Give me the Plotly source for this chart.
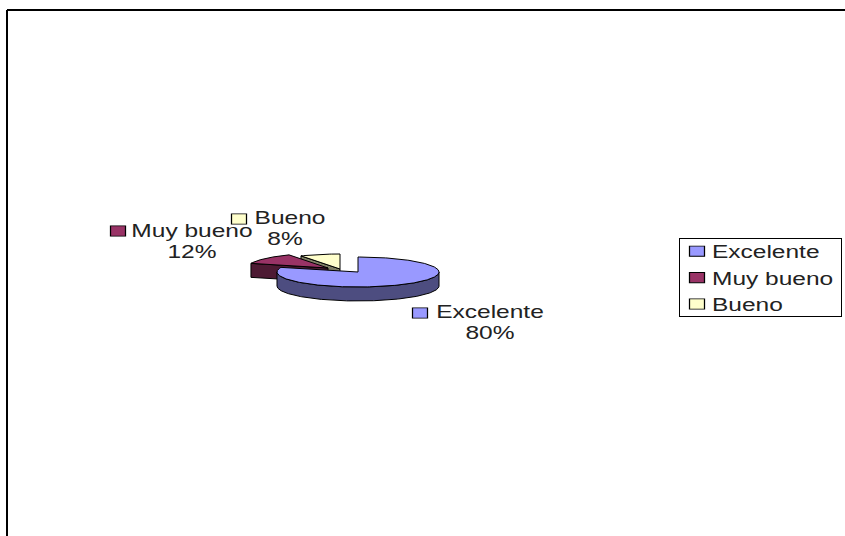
import math
import plotly.graph_objects as go

categories = ["Excelente", "Muy bueno", "Bueno"]
values = [80, 12, 8]
top_colors = ["#9999FF", "#993366", "#FFFFCC"]
side_colors = ["#4D4D80", "#4D1A33", "#808066"]

# pie geometry, in window pixels
centers = [(358, 272), (328, 268), (340, 269)]
RX, RY, DEPTH = 81, 15, 14
TEXT_FONT = "Liberation Sans"
TEXT_SIZE = 19
LEGEND_SIZE = 18
name_pos = [(490, 313), (192, 232), (290, 219)]
pct_pos = [(490, 334), (192, 253), (285, 240)]
key_pos = [(420, 313), (118, 231), (239, 219)]


def pt(c, deg, dz=0):
    a = math.radians(deg)
    return c[0] + RX * math.sin(a), c[1] - RY * math.cos(a) + dz


def arc(c, a0, a1, dz=0):
    n = max(2, int(abs(a1 - a0)) + 1)
    return [pt(c, a0 + (a1 - a0) * i / (n - 1), dz) for i in range(n)]


def poly(fig, pts, color):
    fig.add_trace(go.Scatter(
        x=[p[0] for p in pts] + [pts[0][0]],
        y=[p[1] for p in pts] + [pts[0][1]],
        mode="lines", fill="toself", fillcolor=color,
        line=dict(color="#000000", width=1),
        showlegend=False, hoverinfo="skip"))


fig = go.Figure()

cum = 0
spans = []
for v in values:
    a0 = cum / sum(values) * 360
    cum += v
    spans.append((a0, cum / sum(values) * 360))

# back to front: Bueno, Muy bueno, Excelente
for i in [2, 1, 0]:
    a0, a1 = spans[i]
    c = centers[i]
    lo, hi = max(a0, 90), min(a1, 270)
    if lo < hi:
        poly(fig, arc(c, lo, hi) + arc(c, hi, lo, DEPTH), side_colors[i])
    if i != 0:
        # the cut face that looks towards the viewer
        poly(fig, [c, pt(c, a0), pt(c, a0, DEPTH), (c[0], c[1] + DEPTH)], side_colors[i])
    poly(fig, [c] + arc(c, a0, a1), top_colors[i])

# slice labels
for i, cat in enumerate(categories):
    fig.add_trace(go.Scatter(
        x=[name_pos[i][0], pct_pos[i][0]],
        y=[name_pos[i][1], pct_pos[i][1]],
        mode="text", text=[cat, f"{values[i]}%"],
        textposition="middle center",
        textfont=dict(family=TEXT_FONT, size=TEXT_SIZE, color="#222222"),
        showlegend=False, hoverinfo="skip"))
    fig.add_trace(go.Scatter(
        x=[key_pos[i][0]], y=[key_pos[i][1]], mode="markers",
        marker=dict(symbol="square", size=12, color=top_colors[i],
                    line=dict(color="#000000", width=1)),
        showlegend=False, hoverinfo="skip"))

# legend entries
for i, cat in enumerate(categories):
    fig.add_trace(go.Scatter(
        x=[None], y=[None], mode="markers", name=cat,
        marker=dict(symbol="square", size=12, color=top_colors[i],
                    line=dict(color="#000000", width=1))))

fig.update_layout(
    width=845, height=536,
    margin=dict(l=0, r=0, t=0, b=0),
    paper_bgcolor="#FFFFFF", plot_bgcolor="#FFFFFF",
    xaxis=dict(range=[0, 845], visible=False, fixedrange=True),
    yaxis=dict(range=[536, 0], visible=False, fixedrange=True),
    font=dict(family=TEXT_FONT, color="#222222"),
    legend=dict(x=679 / 845, y=1 - 238 / 536, xanchor="left", yanchor="top",
                bgcolor="#FFFFFF", bordercolor="#000000", borderwidth=1,
                font=dict(family=TEXT_FONT, size=LEGEND_SIZE, color="#222222"),
                itemclick=False, itemdoubleclick=False),
    shapes=[
        dict(type="line", xref="x", yref="y", x0=7, x1=7, y0=10, y1=536,
             line=dict(color="#000000", width=2)),
        dict(type="line", xref="x", yref="y", x0=7, x1=845, y0=10, y1=10,
             line=dict(color="#000000", width=2)),
    ],
)

# The reference's text and keys are stretched sideways; keep them real and stretch them too.
post = """
document.body.style.margin = '0';
document.documentElement.style.overflow = 'hidden';
function stretch(el, f) {
  var w = el.getComputedTextLength();
  el.setAttribute('lengthAdjust', 'spacingAndGlyphs');
  el.setAttribute('textLength', w * f);
}
document.querySelectorAll('.textpoint text').forEach(function (t) { stretch(t, 1.29); });
document.querySelectorAll('.legendtext').forEach(function (t) {
  stretch(t, 1.36);
  t.setAttribute('x', parseFloat(t.getAttribute('x')) - 8);
});
document.querySelectorAll('.scatterlayer .points path.point').forEach(function (p) {
  p.setAttribute('transform', (p.getAttribute('transform') || '') + ' scale(1.25,0.85)');
});
document.querySelectorAll('.legendpoints path').forEach(function (p) {
  p.setAttribute('transform', (p.getAttribute('transform') || '') + ' translate(-3,0) scale(1.25,0.85)');
});
document.querySelectorAll('.legend .bg, clipPath[id*="legend"] rect').forEach(function (r) {
  r.setAttribute('width', 162);
  r.setAttribute('height', 78);
});
var sb = document.querySelector('.legend .scrollbox');
if (sb) { sb.setAttribute('transform', 'translate(0,-6)'); }
"""
fig.write_html("out.html", post_script=post, config={"displayModeBar": False})
